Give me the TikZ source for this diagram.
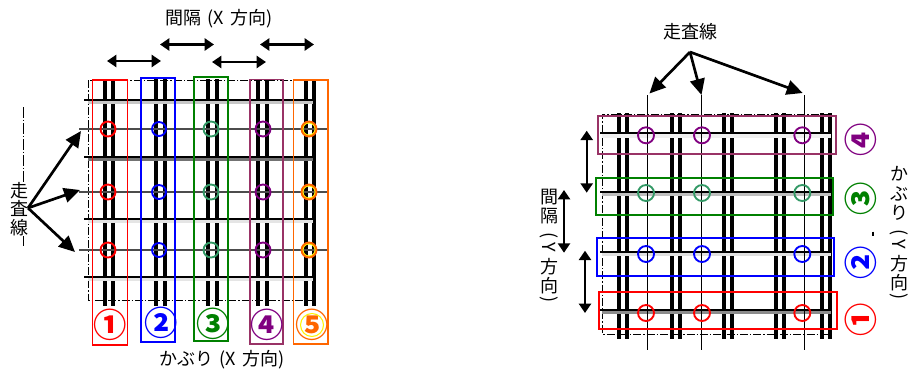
\documentclass[tikz,border=0pt]{standalone}
\usepackage{graphicx}
\usepackage{fontspec}
\setmainfont{Noto Sans CJK JP}
\usetikzlibrary{arrows.meta}
\definecolor{boxpurple}{HTML}{993366}
\definecolor{ringpurple}{HTML}{800080}
\definecolor{ringgreen}{HTML}{339966}
\definecolor{boxgreen}{HTML}{008000}
\definecolor{boxorange}{HTML}{FF6600}
\newcommand{\rotch}[1]{\rotatebox[origin=c]{-90}{#1}}
\newcommand{\wgap}{\hspace{5pt}}
\tikzset{
  rebar/.style={line width=3pt},
  tie/.style={line width=1.6pt},
  scanline/.style={line width=0.9pt,black!70},
  frameline/.style={line width=0.6pt,dash pattern=on 6pt off 1.5pt on 1pt off 1.5pt},
  gapbox/.style={line width=1.4pt},
  ring/.style={line width=1.4pt},
  dblarrow/.style={{Triangle[length=7pt,width=9pt]}-{Triangle[length=7pt,width=9pt]},line width=1.8pt},
  pointer/.style={-{Triangle[length=12pt,width=11pt]},line width=2pt},
  label/.style={font=\fontsize{13.5}{14}\selectfont,inner sep=0pt},
  num/.style={font=\fontsize{25}{25}\selectfont\bfseries,inner sep=0pt}
}
\begin{document}
\begin{tikzpicture}[x=0.75pt,y=-0.75pt]
    \useasboundingbox (0,0) rectangle (910,371);
    % left plan
    \draw[line width=0.6pt,dash pattern=on 8pt off 1.5pt on 1pt off 1.5pt] (23.5,107) -- (23.5,246);
    \draw[frameline] (315,80.5) -- (88,80.5) -- (88,300) -- (315,300);
    \foreach \x in {104.5,113,156,165,207.5,216.5,258,267,305.5,314}
    \draw[rebar] (\x,79) -- (\x,306);
    \foreach \y/\shade in {100/black!22, 157/black!55, 219/black!10, 277/black!10} {
    \draw[line width=2.6pt,\shade] (88,\y+2.5) -- (313,\y+2.5);
    \draw[tie] (84,\y) -- (313,\y);
    }
    \foreach \y in {129,192,250}
    \draw[scanline] (79,\y) -- (327,\y);
    \foreach \y in {129,192,250} {
    \draw[ring,red] (108,\y) circle (7.5);
    \draw[ring,blue] (159,\y) circle (7);
    \draw[ring,ringgreen] (211,\y) circle (7.5);
    \draw[ring,ringpurple] (263,\y) circle (7.5);
    \draw[ring,yellow] (309,\y) circle (6.5);
    \draw[ring,boxorange] (309,\y) circle (7.5);
    }
    \draw[gapbox,red] (92.5,80) rectangle (127.5,345);
    \draw[gapbox,blue] (141,78) rectangle (175,342);
    \draw[gapbox,boxgreen] (194,77) rectangle (228,341);
    \draw[gapbox,boxpurple] (250,79.5) rectangle (283,344);
    \draw[gapbox,boxorange] (293.5,80) rectangle (328,344);
    \node[num,red] (numRedL) at (110,325) {①};
    \node[num,blue] (numBlueL) at (161.5,323) {②};
    \node[num,boxgreen] (numGreenL) at (213,324) {③};
    \node[num,ringpurple] (numPurpleL) at (267,325) {④};
    \node[num,boxorange] (numOrangeL) at (312,325) {⑤};
    \draw[line width=0.8pt,yellow] (312,325) circle (11.5);
    \coordinate (gapLa) at (107,61);
    \coordinate (gapLb) at (161,61);
    \coordinate (gapLc) at (160,44.5);
    \coordinate (gapLd) at (214,44.5);
    \coordinate (gapLe) at (212,62);
    \coordinate (gapLf) at (266,62);
    \coordinate (gapLg) at (260,44.5);
    \coordinate (gapLh) at (314,44.5);
    \draw[dblarrow] (gapLa) -- (gapLb);
    \draw[dblarrow] (gapLc) -- (gapLd);
    \draw[dblarrow] (gapLe) -- (gapLf);
    \draw[dblarrow] (gapLg) -- (gapLh);
    \node[label] (titleGapX) at (219,19) {間隔\wgap{}(X\wgap{}方向)};
    \node[label] (titleCoverX) at (222,360) {かぶり\wgap{}(X\wgap{}方向)};
    \node[label,fill=white,align=center] (labelScanL) at (19,209) {走\\査\\線};
    \coordinate (forkL) at (28,208);
    \coordinate (tipLa) at (81,131);
    \coordinate (tipLb) at (80,190);
    \coordinate (tipLc) at (75,252);
    \draw[pointer] (forkL) -- (tipLa);
    \draw[pointer] (forkL) -- (tipLb);
    \draw[pointer] (forkL) -- (tipLc);
    % right plan
    \draw[frameline] (832,114) -- (602.7,114) -- (602.7,334) -- (832,334);
    \foreach \x in {619.3,627.3,671.7,679.7,724,732,775.7,783.7,822,830}
    \draw[rebar] (\x,113) -- (\x,339);
    \foreach \y/\shade in {133.3/black!6, 192/black!25, 251.7/black!12, 310/black!45} {
    \draw[line width=2.6pt,\shade] (602,\y+2.5) -- (831,\y+2.5);
    \draw[tie] (600,\y) -- (831,\y);
    }
    \foreach \x in {647.7,701.7,804.3}
    \draw[line width=0.8pt] (\x,95) -- (\x,350);
    \foreach \y/\col in {135.3/ringpurple, 193/ringgreen, 254/blue, 313/red} {
    \draw[ring,\col] (646,\y) circle (8);
    \draw[ring,\col] (702,\y) circle (8);
    \draw[ring,\col] (802.3,\y) circle (8);
    }
    \draw[gapbox,boxpurple] (597.7,116) rectangle (836,154);
    \draw[gapbox,boxgreen] (596,178.3) rectangle (833.3,215.3);
    \draw[gapbox,blue] (596.7,238) rectangle (834.3,276);
    \draw[gapbox,red] (598.7,291.7) rectangle (836.7,329);
    \node[num,ringpurple,rotate=90] (numPurpleR) at (860.7,140) {④};
    \node[num,boxgreen,rotate=90] (numGreenR) at (860.7,199.3) {③};
    \node[num,blue,rotate=90] (numBlueR) at (860.7,263.3) {②};
    \node[num,red,rotate=90] (numRedR) at (860.7,320) {①};
    \coordinate (gapRa) at (586.7,130.7);
    \coordinate (gapRb) at (586.7,192.7);
    \coordinate (gapRc) at (564,190);
    \coordinate (gapRd) at (564,252.7);
    \coordinate (gapRe) at (585,250.7);
    \coordinate (gapRf) at (585,313);
    \draw[dblarrow] (gapRa) -- (gapRb);
    \draw[dblarrow] (gapRc) -- (gapRd);
    \draw[dblarrow] (gapRe) -- (gapRf);
    \node[label] (labelScanR) at (690,31.5) {走査線};
    \coordinate (forkR) at (690,52);
    \coordinate (tipRa) at (649.5,93.5);
    \coordinate (tipRb) at (701.5,95);
    \coordinate (tipRc) at (802.7,93);
    \draw[pointer] (forkR) -- (tipRa);
    \draw[pointer] (forkR) -- (tipRb);
    \draw[pointer] (forkR) -- (tipRc);
    \node[label,align=center,anchor=north] (titleGapY) at (549,189) {間\\隔\\[0.5pt]\rotch{(}\\[-5pt]\rotch{Y}\\[1pt]方\\向\\[-4pt]\rotch{)}};
    \node[label,align=center,anchor=north] (titleCoverY) at (899,166) {か\\[1pt]ぶ\\り\\[0.5pt]\rotch{(}\\[-5pt]\rotch{Y}\\[1pt]方\\向\\[-4pt]\rotch{)}};
    \draw[line width=1pt] (873,231.5) -- (873,236);
\end{tikzpicture}
\end{document}
